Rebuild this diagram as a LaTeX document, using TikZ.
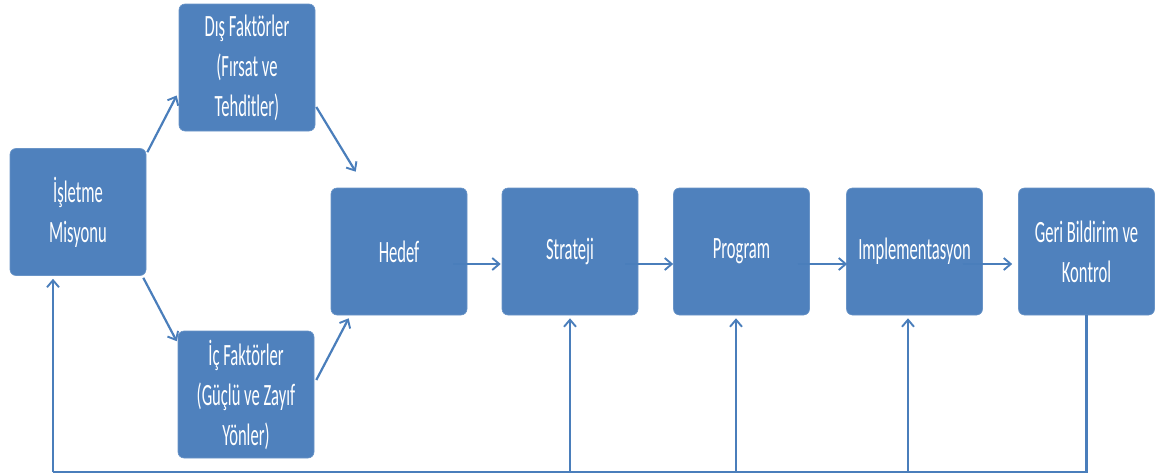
\documentclass[tikz,border=0pt]{standalone}
\usepackage{fontspec}
\setmainfont{Carlito}[FakeStretch=0.535]
\usetikzlibrary{arrows.meta,calc}
\definecolor{boxblue}{HTML}{4F81BD}
\definecolor{lineblue}{HTML}{4A7EBB}
\begin{document}
\begin{tikzpicture}[x=1pt,y=-1pt,
  blk/.style={rectangle,rounded corners=6pt,fill=boxblue,draw=boxblue!85!white,line width=0.6pt,
    minimum width=136pt,minimum height=127pt,inner sep=2pt,text=white,align=center,
    font=\fontsize{31}{40}\selectfont},
  flow/.style={draw=lineblue,line width=2.2pt,-{Straight Barb[length=7pt,width=12pt,line width=1.9pt]}},
  feed/.style={draw=lineblue,line width=2.2pt}]
\useasboundingbox (0,0) rectangle (1170,474);

% boxes
\node[blk] (mis)   at (78,212)      {İşletme\\Misyonu};
\node[blk] (dis)   at (247,67.5)    {Dış Faktörler\\(Fırsat ve\\Tehditler)};
\node[blk] (ic)    at (246,394.5)   {İç Faktörler\\(Güçlü ve Zayıf\\Yönler)};
\node[blk] (hedef) at (399,251.5)   {Hedef};
\node[blk] (strat) at (570,251.5)   {Strateji};
\node[blk] (prog)  at (741.5,251.5) {Program};
\node[blk] (impl)  at (914.5,251.5) {Implementasyon};
\node[blk] (geri)  at (1086.5,251.5){Geri Bildirim ve\\Kontrol};

% mission splits into external and internal factors
\draw[flow] ([shift={(1,4)}]mis.north east) -- ([shift={(-2,28)}]dis.west);
\draw[flow] ([shift={(-3,2)}]mis.south east) -- ([shift={(-1,10.5)}]ic.north west);
\draw[flow] ([shift={(1,39.5)}]dis.east) -- ([shift={(25,-16)}]hedef.north west);
\draw[flow] ([shift={(2,-14.5)}]ic.east) -- ([shift={(18,3)}]hedef.south west);

% main chain
\draw[flow] ([shift={(-14,12.5)}]hedef.east) -- ([shift={(-1,12.5)}]strat.west);
\draw[flow] ([shift={(-13,12.5)}]strat.east) -- ([shift={(0,12.5)}]prog.west);
\draw[flow] ([shift={(-12,12.5)}]prog.east) -- ([shift={(1,12.5)}]impl.west);
\draw[flow] ([shift={(-20,12.5)}]impl.east) -- ([shift={(-6,12.5)}]geri.west);

% feedback loop
\coordinate (base) at (0,472);
\coordinate (misin) at ([shift={(-25,3)}]mis.south);
\draw[feed] (geri.south) -- (geri.south |- base) -- (misin |- base);
\draw[flow] (misin |- base) -- (misin);
\draw[flow] (strat.south |- base) -- ([shift={(0,3)}]strat.south);
\draw[flow] ([xshift=-5.5pt]prog.south |- base) -- ([shift={(-5.5,3)}]prog.south);
\draw[flow] ([xshift=-6.5pt]impl.south |- base) -- ([shift={(-6.5,3)}]impl.south);
\end{tikzpicture}
\end{document}
